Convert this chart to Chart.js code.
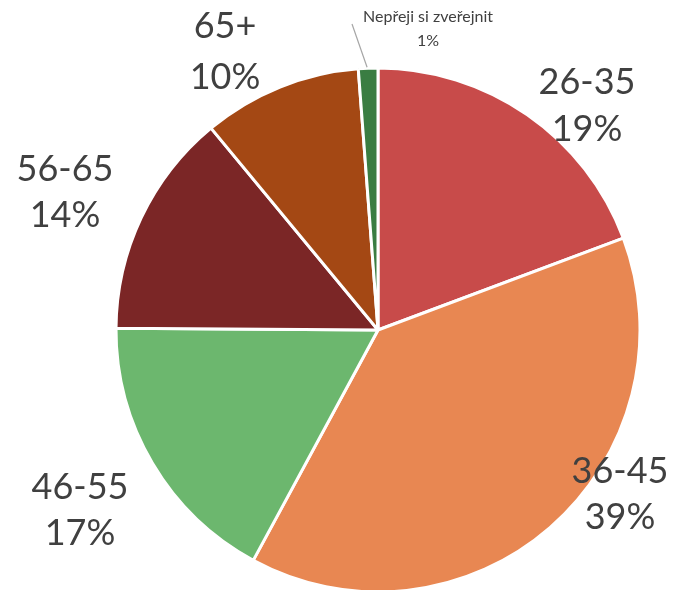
<!DOCTYPE html>
<html>
<head>
<meta charset="utf-8">
<script src="https://cdn.jsdelivr.net/npm/chart.js@4"></script>
<style>
html,body{margin:0;padding:0;background:#fff;}
#wrap{width:675px;height:590px;position:relative;}
</style>
</head>
<body>
<div id="wrap"><canvas id="c" width="675" height="590"></canvas></div>
<script>
// Data
const categories = ["26-35", "36-45", "46-55", "56-65", "65+", "Nepřeji si zveřejnit"];
const shares = [19.3, 38.6, 17.2, 13.9, 9.8, 1.2];
const percentLabels = ["19%", "39%", "17%", "14%", "10%", "1%"];

// Styles
const sliceColors = ["#C84B4A", "#E88752", "#6CB76E", "#7B2626", "#A44814", "#3A7D42"];
// label anchor offsets (first line centre) relative to pie centre, line gap, font size
const labelStyle = [
  {dx: 209, dy: -248, gap: 47, size: 36},
  {dx: 242, dy: 141, gap: 46, size: 36},
  {dx: -298, dy: 157, gap: 46, size: 36},
  {dx: -313, dy: -161, gap: 46, size: 36},
  {dx: -153, dy: -304, gap: 51, size: 36},
  {dx: 50, dy: -313, gap: 24, size: 16, leader: true}
];

const labelPlugin = {
  id: 'outerLabels',
  afterDatasetsDraw(chart) {
    const ctx = chart.ctx;
    const meta = chart.getDatasetMeta(0);
    meta.data.forEach((arc, i) => {
      const s = labelStyle[i];
      const cx = arc.x, cy = arc.y;
      const x = cx + s.dx, y = cy + s.dy;
      ctx.save();
      if (s.leader) {
        const mid = (arc.startAngle + arc.endAngle) / 2;
        const ex = cx + Math.cos(mid) * (arc.outerRadius + 1);
        const ey = cy + Math.sin(mid) * (arc.outerRadius + 1);
        ctx.strokeStyle = '#A6A6A6';
        ctx.lineWidth = 1.2;
        ctx.beginPath();
        ctx.moveTo(x - 76, y + 7);
        ctx.lineTo(ex - 1, ey);
        ctx.stroke();
      }
      ctx.fillStyle = '#404040';
      ctx.font = s.size + 'px Lato, "Open Sans", sans-serif';
      ctx.textAlign = 'center';
      ctx.textBaseline = 'middle';
      ctx.fillText(categories[i], x, y);
      ctx.fillText(percentLabels[i], x, y + s.gap);
      ctx.restore();
    });
  }
};

new Chart(document.getElementById('c'), {
  type: 'pie',
  data: {
    labels: categories,
    datasets: [{
      data: shares,
      backgroundColor: sliceColors,
      borderColor: '#FFFFFF',
      borderWidth: 3
    }]
  },
  options: {
    responsive: false,
    animation: false,
    radius: 262,
    layout: {padding: {left: 116, right: 35, top: 70, bottom: 0}},
    plugins: {legend: {display: false}, tooltip: {enabled: false}}
  },
  plugins: [labelPlugin]
});
</script>
</body>
</html>
